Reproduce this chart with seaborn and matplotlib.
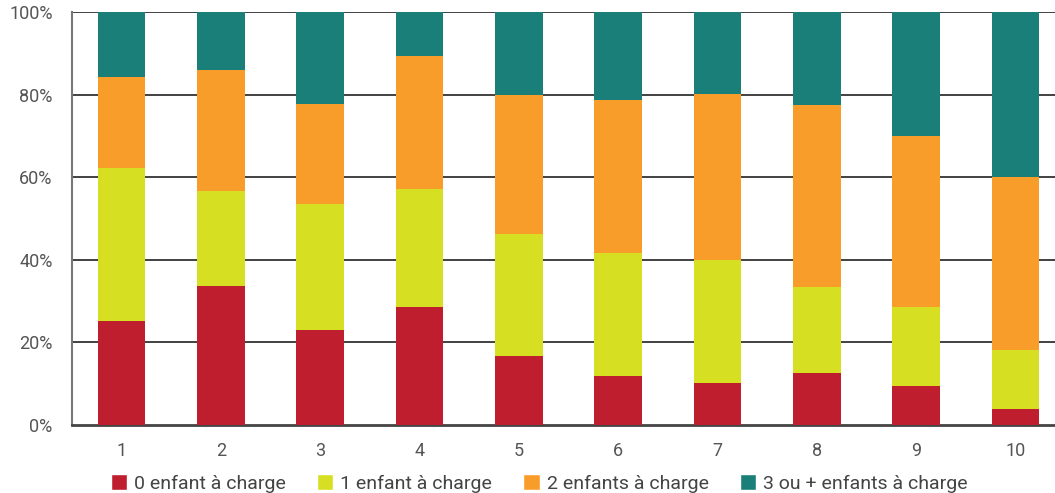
import pandas as pd
import seaborn as sns
import matplotlib.pyplot as plt
from matplotlib.patches import Patch

# deciles
deciles = ["1", "2", "3", "4", "5", "6", "7", "8", "9", "10"]
# share of each household type, in %
zero_child = [25.2, 33.7, 23.0, 28.6, 16.7, 11.9, 10.2, 12.6, 9.4, 3.9]
one_child = [37.0, 23.0, 30.5, 28.5, 29.5, 29.7, 29.8, 20.8, 19.2, 14.3]
two_child = [22.1, 29.3, 24.2, 32.2, 33.7, 37.1, 40.1, 44.1, 41.4, 41.8]
three_plus = [15.7, 14.0, 22.3, 10.7, 20.1, 21.3, 19.9, 22.5, 30.0, 40.0]

labels = ["0 enfant à charge", "1 enfant à charge", "2 enfants à charge", "3 ou + enfants à charge"]
colors = ["#BE1E2D", "#D7DF23", "#F99D2A", "#1B7F79"]

df = pd.DataFrame({"decile": deciles,
                   labels[0]: zero_child, labels[1]: one_child,
                   labels[2]: two_child, labels[3]: three_plus})
# cumulative tops for stacking
cum = df[labels].cumsum(axis=1)
cum["decile"] = df["decile"]

sns.set_style("white")
plt.rcParams['font.family'] = ['Roboto', 'DejaVu Sans']

fig = plt.figure(figsize=(10.55, 4.93), dpi=100)
ax = fig.add_axes([72 / 1055, 68 / 493, 993 / 1055, 413 / 493])

for lab, col in reversed(list(zip(labels, colors))):
    sns.barplot(data=cum, x="decile", y=lab, color=col, width=0.48,
                saturation=1, linewidth=0, edgecolor="none", ax=ax, zorder=3)

ax.set_xlim(-0.5, 9.5)
ax.set_ylim(0, 100)
ax.set_yticks([0, 20, 40, 60, 80, 100])
ax.set_yticklabels(["0%", "20%", "40%", "60%", "80%", "100%"])
ax.set_xlabel('')
ax.set_ylabel('')

for y in [20, 40, 60, 80, 100]:
    ax.axhline(y, color="#333333", lw=1.3, zorder=1)

ax.set_xticks(range(10), minor=False)
ax.set_xticks([i + 0.5 for i in range(-1, 10)], minor=True)
ax.tick_params(axis='x', which='major', length=0, pad=12, labelsize=13, labelcolor="#555555")
ax.tick_params(axis='x', which='minor', direction='in', length=9, width=1.5, color="#444444")
ax.tick_params(axis='y', length=0, pad=14, labelsize=13, labelcolor="#555555")

for s in ["top", "right"]:
    ax.spines[s].set_visible(False)
ax.spines["left"].set_color("#777777")
ax.spines["left"].set_linewidth(1.5)
ax.spines["bottom"].set_color("#444444")
ax.spines["bottom"].set_linewidth(2)

handles = [Patch(facecolor=c, label=l) for c, l in zip(colors, labels)]
fig.legend(handles=handles, loc='lower center', bbox_to_anchor=(0.511, -0.035),
           ncol=4, frameon=False, fontsize=14, handlelength=0.85, handleheight=0.85,
           handletextpad=0.35, columnspacing=1.6, labelcolor="#444444")

plt.savefig("out.png", dpi=100)
